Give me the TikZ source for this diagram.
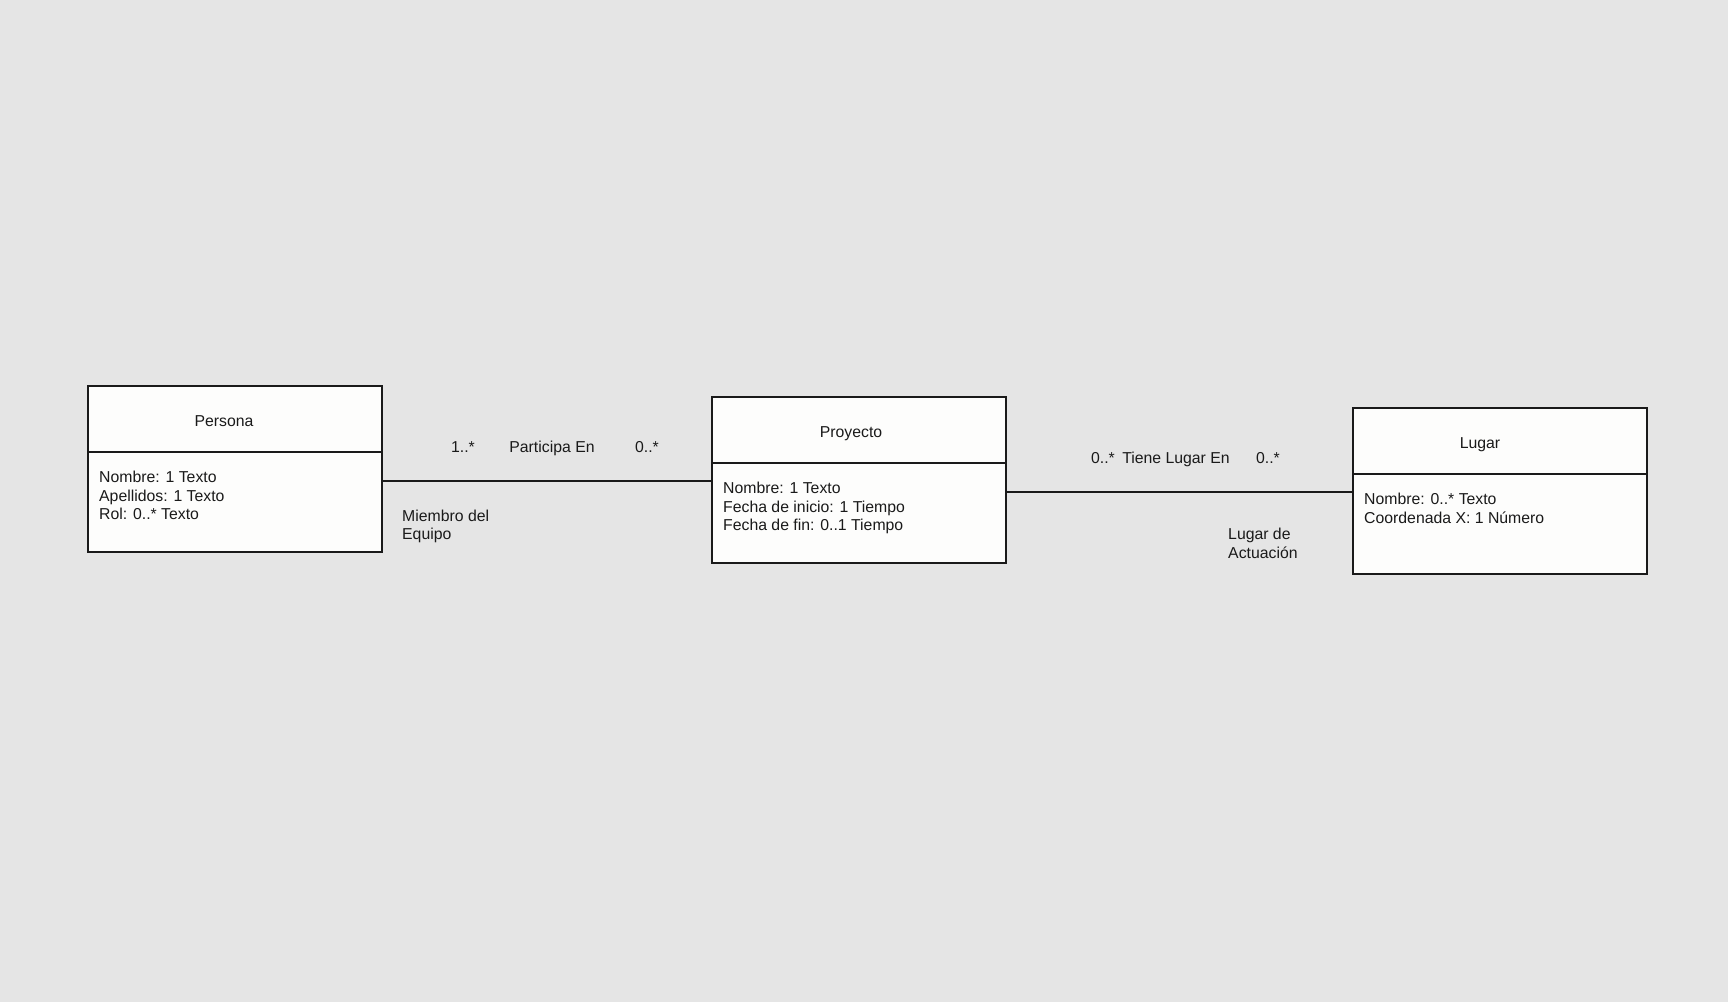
\documentclass[tikz,border=0pt]{standalone}
\usepackage{fontspec}
\setmainfont{Liberation Sans}
\usetikzlibrary{positioning}
\definecolor{canvas}{HTML}{E5E5E5}
\definecolor{boxfill}{HTML}{FDFDFC}
\definecolor{ink}{HTML}{1A1A1A}
\tikzset{
x=1pt, y=-1pt, % one unit per pixel of the sketch, y going down
every node/.style={font=\fontsize{15.8}{18.5}\selectfont, text=ink},
classhead/.style={draw=ink, line width=1.15pt, fill=boxfill, minimum width=294pt, minimum height=66pt, outer sep=0pt, inner sep=0pt}, % name compartment
classbody/.style={classhead, minimum height=100pt}, % attribute compartment
divider/.style={draw=ink, line width=2.6pt},
assoc/.style={draw=ink, line width=1.1pt},
attrs/.style={anchor=north west, align=left, inner sep=0pt},
tag/.style={anchor=base, inner sep=0pt}, % names and multiplicities
role/.style={anchor=north west, align=left, inner sep=0pt},
}

\begin{document}
\begin{tikzpicture}
    \fill[canvas] (0,0) rectangle (1728,1002);
    \useasboundingbox (0,0) rectangle (1728,1002);

    % classes
    \node[classhead] (persona) at (235,419) {};
    \node[classbody, below=0pt of persona] (personabody) {};
    \node[classhead, right=330pt of persona, yshift=-11pt] (proyecto) {};
    \node[classbody, below=0pt of proyecto] (proyectobody) {};
    \node[classhead, right=347pt of proyecto, yshift=-11pt] (lugar) {};
    \node[classbody, below=0pt of lugar] (lugarbody) {};
    \draw[divider] (persona.south west) -- (persona.south east);
    \draw[divider] (proyecto.south west) -- (proyecto.south east);
    \draw[divider] (lugar.south west) -- (lugar.south east);

    \node[tag] (personaname) at ([xshift=-11pt, yshift=-40.5pt]persona.north) {Persona};
    \node[tag] (proyectoname) at ([xshift=-8pt, yshift=-40.5pt]proyecto.north) {Proyecto};
    \node[tag] (lugarname) at ([xshift=-20pt, yshift=-40.5pt]lugar.north) {Lugar};

    \node[attrs] (personaattrs) at ([xshift=11pt, yshift=-19pt]personabody.north west)
        {Nombre: 1 Texto\\Apellidos: 1 Texto\\Rol: 0..* Texto};
    \node[attrs] (proyectoattrs) at ([xshift=11pt, yshift=-19pt]proyectobody.north west)
        {Nombre: 1 Texto\\Fecha de inicio: 1 Tiempo\\Fecha de fin: 0..1 Tiempo};
    \node[attrs] (lugarattrs) at ([xshift=11pt, yshift=-19pt]lugarbody.north west)
        {Nombre: 0..* Texto\\Coordenada X: 1 Número};

    % associations
    \coordinate (pe) at ([yshift=-29pt]personabody.north east);
    \draw[assoc] (pe) -- (pe -| proyecto.west);
    \coordinate (pr) at ([yshift=-29pt]proyectobody.north east);
    \draw[assoc] (pr) -- (pr -| lugar.west);

    \node[tag] (partmin) at (463,452.5) {1..*};
    \node[tag] (partname) at (552,452.5) {Participa En};
    \node[tag] (partmax) at (647,452.5) {0..*};
    \node[role] (partrole) at (402,509.5) {Miembro del\\Equipo};

    \node[tag] (sitemin) at (1103,463.5) {0..*};
    \node[tag] (sitename) at (1176,463.5) {Tiene Lugar En};
    \node[tag] (sitemax) at (1268,463.5) {0..*};
    \node[role] (siterole) at (1228,528) {Lugar de\\Actuación};
\end{tikzpicture}
\end{document}
